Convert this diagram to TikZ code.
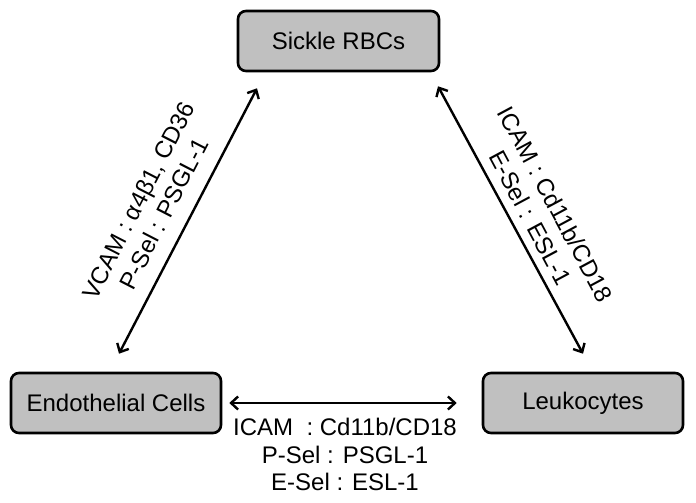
\documentclass[tikz,border=0pt]{standalone}
\usepackage{fontspec}
\setmainfont{Liberation Sans}
\usetikzlibrary{arrows.meta,calc}
\begin{document}
\begin{tikzpicture}[x=1pt,y=-1pt,
  cell/.style={draw=black,line width=2.6pt,fill=boxgray,rounded corners=8pt,
    minimum height=60pt,inner sep=0pt,font=\fontsize{24}{28}\selectfont},
  link/.style={line width=2.4pt,{Straight Barb[length=7pt,width=13pt,line width=2.4pt]}-{Straight Barb[length=7pt,width=13pt,line width=2.4pt]}},
  lbl/.style={align=center,inner sep=0pt,font=\fontsize{24}{28.5}\selectfont}]
\definecolor{boxgray}{RGB}{192,192,192}
\useasboundingbox[fill=white] (0,0) rectangle (696,503);
\node[cell,minimum width=201pt] (rbc) at (338.5,41) {Sickle RBCs};
\node[cell,minimum width=210pt] (endo) at (116,403) {Endothelial Cells};
\node[cell,minimum width=200pt] (leuk) at (583,403) {Leukocytes};
\draw[link] ([xshift=3pt,yshift=18pt]endo.north) -- ([xshift=-81.5pt,yshift=-16pt]rbc.south);
\draw[link] ([xshift=99.5pt,yshift=-14pt]rbc.south) -- ([yshift=18pt]leuk.north);
\draw[link] ([xshift=7pt]endo.east) -- ([xshift=-25pt]leuk.west);
\node[lbl,rotate=62.8] (lblL) at (151,207) {VCAM : α4β1, CD36\\P-Sel : PSGL-1};
\node[lbl,rotate=-61.8] (lblR) at (543,211) {ICAM : Cd11b/CD18\\E-Sel : ESL-1};
\node[lbl,font=\fontsize{24}{27.5}\selectfont] (lblB) at (345,454.5) {ICAM~ : Cd11b/CD18\\P-Sel : PSGL-1\\E-Sel : ESL-1};
\end{tikzpicture}
\end{document}
